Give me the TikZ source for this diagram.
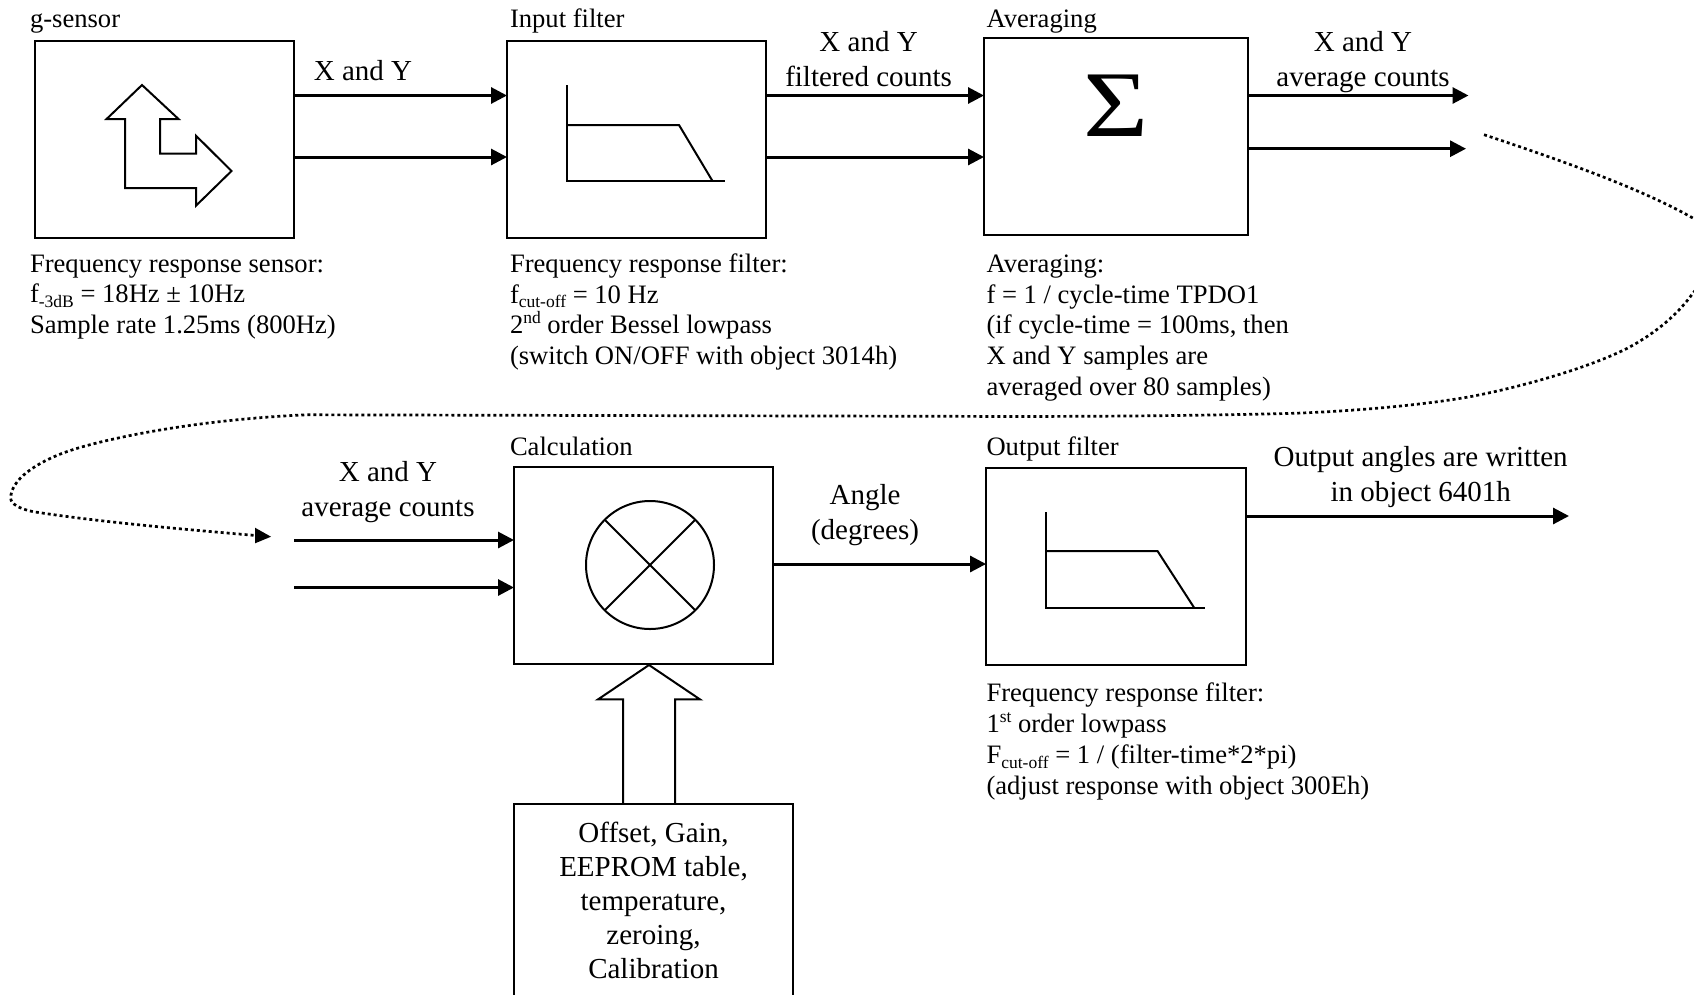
\documentclass[tikz,border=0pt]{standalone}
\usepackage{fontspec}
\setmainfont{Liberation Serif}
\usetikzlibrary{arrows.meta}
\newcommand{\subtxt}[1]{{\fontsize{17.5}{17.5}\selectfont\raisebox{-4.5pt}{#1}}}
\newcommand{\suptxt}[1]{{\fontsize{17.5}{17.5}\selectfont\raisebox{10pt}{#1}}}
\tikzset{
  block/.style={draw=black,line width=2pt,fill=none,rectangle,outer sep=0pt,inner sep=0pt,minimum width=#1},
  shapeline/.style={draw=black,line width=2pt,line join=miter},
  flow/.style={draw=black,line width=3pt,-{Triangle[length=16pt,width=16pt]}},
  dotflow/.style={draw=black,line width=2.7pt,dash pattern=on 3pt off 3pt},
  small/.style={inner sep=0pt,outer sep=0pt,align=left,anchor=base west,font=\fontsize{26.6}{30.8}\selectfont},
  big/.style={inner sep=0pt,outer sep=0pt,align=center,anchor=base,font=\fontsize{29}{35}\selectfont},
}
\begin{document}
\begin{tikzpicture}[x=1pt,y=-1pt]
\path[use as bounding box] (0,0) rectangle (1694,994);
% boxes
\node[block=259pt,minimum height=197pt] (gs) at (164.5,139.5) {};
\node[block=259pt,minimum height=197pt] (inf) at (636.5,139.5) {};
\node[block=264pt,minimum height=197pt] (avg) at (1116,136.5) {};
\node[block=259pt,minimum height=197pt] (calc) at (643.5,565.5) {};
\node[block=259.5pt,minimum height=197pt] (outf) at (1115.8,566) {};
\node[block=279pt,minimum height=220pt] (cal) at (653.5,914) {};
\node[big,font=\fontsize{29}{34}\selectfont] (calt) at (653.5,978) {Offset, Gain,\\EEPROM table,\\temperature,\\zeroing,\\Calibration};
% coordinates for free ends
\coordinate (avgoutA) at (1468.5,95.5);
\coordinate (avgoutB) at (1466,148.7);
\coordinate (calinA) at (294,540);
\coordinate (calinB) at (294,587.5);
\coordinate (outend) at (1569,516);
\coordinate (dotstart) at (1484,134.7);
\coordinate (dotend) at (271,536.7);
% connectors
\draw[flow] (gs.east |- 0,95.5) -- (inf.west |- 0,95.5);
\draw[flow] (gs.east |- 0,157) -- (inf.west |- 0,157);
\draw[flow] (inf.east |- 0,95.5) -- (avg.west |- 0,95.5);
\draw[flow] (inf.east |- 0,157) -- (avg.west |- 0,157);
\draw[flow] (avg.east |- avgoutA) -- (avgoutA);
\draw[flow] (avg.east |- avgoutB) -- (avgoutB);
\draw[flow] (calinA) -- (calc.west |- calinA);
\draw[flow] (calinB) -- (calc.west |- calinB);
\draw[flow] (calc.east |- 0,564) -- (outf.west |- 0,564);
\draw[flow] (outf.east |- outend) -- (outend);
% dotted link
\draw[dotflow] (dotstart) .. controls (1560,160) and (1640,188) .. (1693.3,218.3)
  .. controls (1725,236) and (1720,262) .. (1693.3,292.7)
  .. controls (1675,318) and (1652,335) .. (1627.3,348.3)
  .. controls (1580,372) and (1500,392) .. (1460.7,398.3)
  .. controls (1400,408) and (1330,412) .. (1294,413.3)
  .. controls (1150,417) and (1000,416.5) .. (950,416.3)
  -- (306,414.8)
  .. controls (190,420) and (100,440) .. (66.7,451.7)
  .. controls (35,463) and (10.7,480) .. (10.7,498.3)
  .. controls (10.7,504) and (20,509) .. (33.3,511.7)
  .. controls (100,522) and (180,529) .. (256,535.5);
\fill[black] (dotend) -- (255,527.7) -- (255,543.3) -- cycle;
% sensor icon
\draw[shapeline] (142,85) -- (178.5,119) -- (160,119) -- (160,153.7) -- (196,153.7) -- (196,135.7)
  -- (231.5,171) -- (196,205.7) -- (196,188) -- (125,188) -- (125,119) -- (106.6,119) -- cycle;
% filter icons
\draw[shapeline] (566.6,85) -- (566.6,181) -- (724.7,181);
\draw[shapeline] (566.6,125) -- (679,125) -- (712.5,181);
\draw[shapeline] (1045.8,512) -- (1045.8,607.5) -- (1204.6,607.5);
\draw[shapeline] (1045.8,551) -- (1157.5,551) -- (1194,607.5);
% sigma
\node[inner sep=0pt,outer sep=0pt,anchor=base,font=\fontsize{94}{94}\selectfont] (sig) at (1116,136.5) {\scalebox{1.19}[1]{Σ}};
% multiplier
\node[draw=black,line width=2pt,circle,minimum size=128pt,inner sep=0pt,outer sep=0pt] (mul) at (650,565) {};
\draw[shapeline] (mul.45) -- (mul.225);
\draw[shapeline] (mul.135) -- (mul.315);
% big arrow
\draw[shapeline] (649,665) -- (700,699.4) -- (675,699.4) -- (675,804) (623,804) -- (623,699.4) -- (598,699.4) -- (649,665);
% small labels
\node[small] (l1) at (30,27.8) {g-sensor};
\node[small] (l2) at (510,27.8) {Input filter};
\node[small] (l3) at (986.5,27.8) {Averaging};
\node[small] (l4) at (510,455.8) {Calculation};
\node[small] (l5) at (986.5,455.8) {Output filter};
\node[small] (d1) at (30,333.7) {Frequency response sensor:\\f\subtxt{-3dB} = 18Hz ± 10Hz\\Sample rate 1.25ms (800Hz)};
\node[small] (d2) at (510,364.7) {Frequency response filter:\\f\subtxt{cut-off} = 10 Hz\\2\suptxt{nd} order Bessel lowpass\\(switch ON/OFF with object 3014h)};
\node[small] (d3) at (986.5,395.5) {Averaging:\\f = 1 / cycle-time TPDO1\\(if cycle-time = 100ms, then\\X and Y samples are\\averaged over 80 samples)};
\node[small] (d4) at (986.5,794.3) {Frequency response filter:\\1\suptxt{st} order lowpass\\F\subtxt{cut-off} = 1 / (filter-time*2*pi)\\(adjust response with object 300Eh)};
% large labels
\node[big] (b1) at (363,80) {X and Y};
\node[big] (b2) at (868.6,86) {X and Y\\filtered counts};
\node[big] (b3) at (1363,86) {X and Y\\average counts};
\node[big] (b4) at (388,516) {X and Y\\average counts};
\node[big] (b5) at (865,539) {Angle\\(degrees)};
\node[big] (b6) at (1420.7,501) {Output angles are written\\in object 6401h};
\end{tikzpicture}
\end{document}
